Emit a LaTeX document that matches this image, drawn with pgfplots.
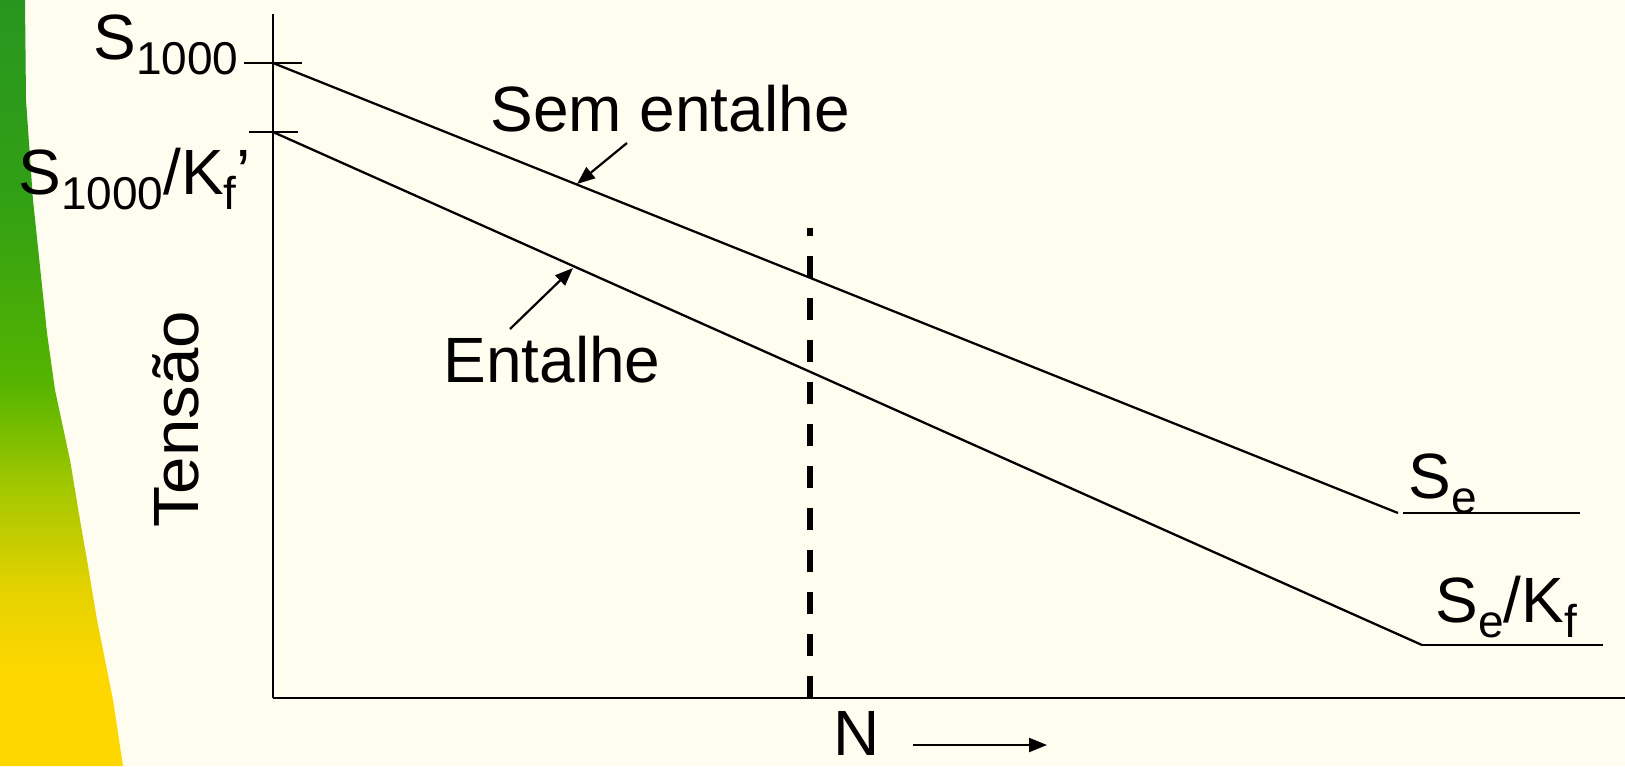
\documentclass[border=0pt]{standalone}
\usepackage{fontspec}
\setmainfont{Liberation Sans}
\usepackage{pgfplots}
\pgfplotsset{compat=1.18}
\usetikzlibrary{arrows.meta}
\definecolor{bgc}{RGB}{255,253,240}
\pgfdeclareverticalshading{band}{100bp}{%
 color(0bp)=(rgb,255:red,255;green,215;blue,0);
 color(25bp)=(rgb,255:red,255;green,215;blue,0);
 color(31bp)=(rgb,255:red,255;green,215;blue,0);
 color(36.5bp)=(rgb,255:red,228;green,210;blue,0);
 color(43bp)=(rgb,255:red,165;green,200;blue,0);
 color(50bp)=(rgb,255:red,85;green,180;blue,0);
 color(62bp)=(rgb,255:red,50;green,160;blue,20);
 color(75bp)=(rgb,255:red,40;green,150;blue,30);
 color(100bp)=(rgb,255:red,40;green,150;blue,30)}
\newcommand\bigtxt{\fontsize{32}{38}\selectfont}
\newcommand\sub[1]{\raisebox{-7.5pt}{\fontsize{23}{26}\selectfont #1}}
\begin{document}
\begin{tikzpicture}
\useasboundingbox (0,0) rectangle (812.5pt,383pt);
\fill[bgc] (0,0) rectangle (812.5pt,383pt);
\shade[shading=band] (0,0) -- (0,383pt) -- (12.5pt,383pt) -- (13pt,333pt) -- (16.5pt,283pt) -- (23.5pt,216.5pt) -- (27.5pt,188pt) -- (35pt,153pt) -- (40pt,123pt) -- (43.5pt,103pt) -- (48.5pt,73pt) -- (56.5pt,33pt) -- (61.5pt,0pt) -- cycle;
\begin{axis}[
  scale only axis, width=676pt, height=342pt,
  at={(136.5pt,34pt)}, anchor=south west,
  xmin=273, xmax=1625, ymin=68, ymax=752,
  axis lines*=left, clip=false,
  axis line style={line width=1.35pt, black},
  xtick=\empty,
  ytick={703}, yticklabels={},
  extra y ticks={634}, extra y tick labels={},
  tick align=center,
  major tick length=29pt,
  extra y tick style={major tick length=24.5pt},
  every tick/.style={black, line width=1.3pt},
  font=\bigtxt,
]
\addplot[black, line width=1.15pt] coordinates {(273,703) (1398,253)};
\addplot[black, line width=1.15pt] coordinates {(1403,253) (1580,253)};
\addplot[black, line width=1.15pt] coordinates {(273,634) (1422,121)};
\addplot[black, line width=1.15pt] coordinates {(1422,121) (1603,121)};
\addplot[black, line width=2.6pt, dash pattern=on 11pt off 10pt] coordinates {(810,68) (810,538)};
\draw[black, line width=1.1pt, -{Triangle[length=9pt,width=7pt]}] (axis cs:627,623) -- (axis cs:577,582);
\draw[black, line width=1.1pt, -{Triangle[length=9pt,width=7pt]}] (axis cs:510,437) -- (axis cs:573,498);
\draw[black, line width=1.1pt, -{Triangle[length=9pt,width=7pt]}] (axis cs:913,21) -- (axis cs:1047,21);
\node[anchor=base west, inner sep=0pt] at (axis cs:93,706) {\bigtxt S\sub{1000}};
\node[anchor=base west, inner sep=0pt] at (axis cs:18,571) {\bigtxt S\sub{1000}/K\sub{f}’};
\node[anchor=base west, inner sep=0pt] at (axis cs:490,634) {\bigtxt Sem entalhe};
\node[anchor=base west, inner sep=0pt] at (axis cs:443,383) {\bigtxt Entalhe};
\node[anchor=base, inner sep=0pt, rotate=90] at (axis cs:198,346.5) {\bigtxt\scalebox{1.05}[1]{Tensão}};
\node[anchor=base west, inner sep=0pt] at (axis cs:1408,268) {\bigtxt S\sub{e}};
\node[anchor=base west, inner sep=0pt] at (axis cs:1435,144) {\bigtxt S\sub{e}/K\sub{f}};
\node[anchor=base west, inner sep=0pt] at (axis cs:833,11) {\bigtxt N};
\end{axis}
\end{tikzpicture}
\end{document}
